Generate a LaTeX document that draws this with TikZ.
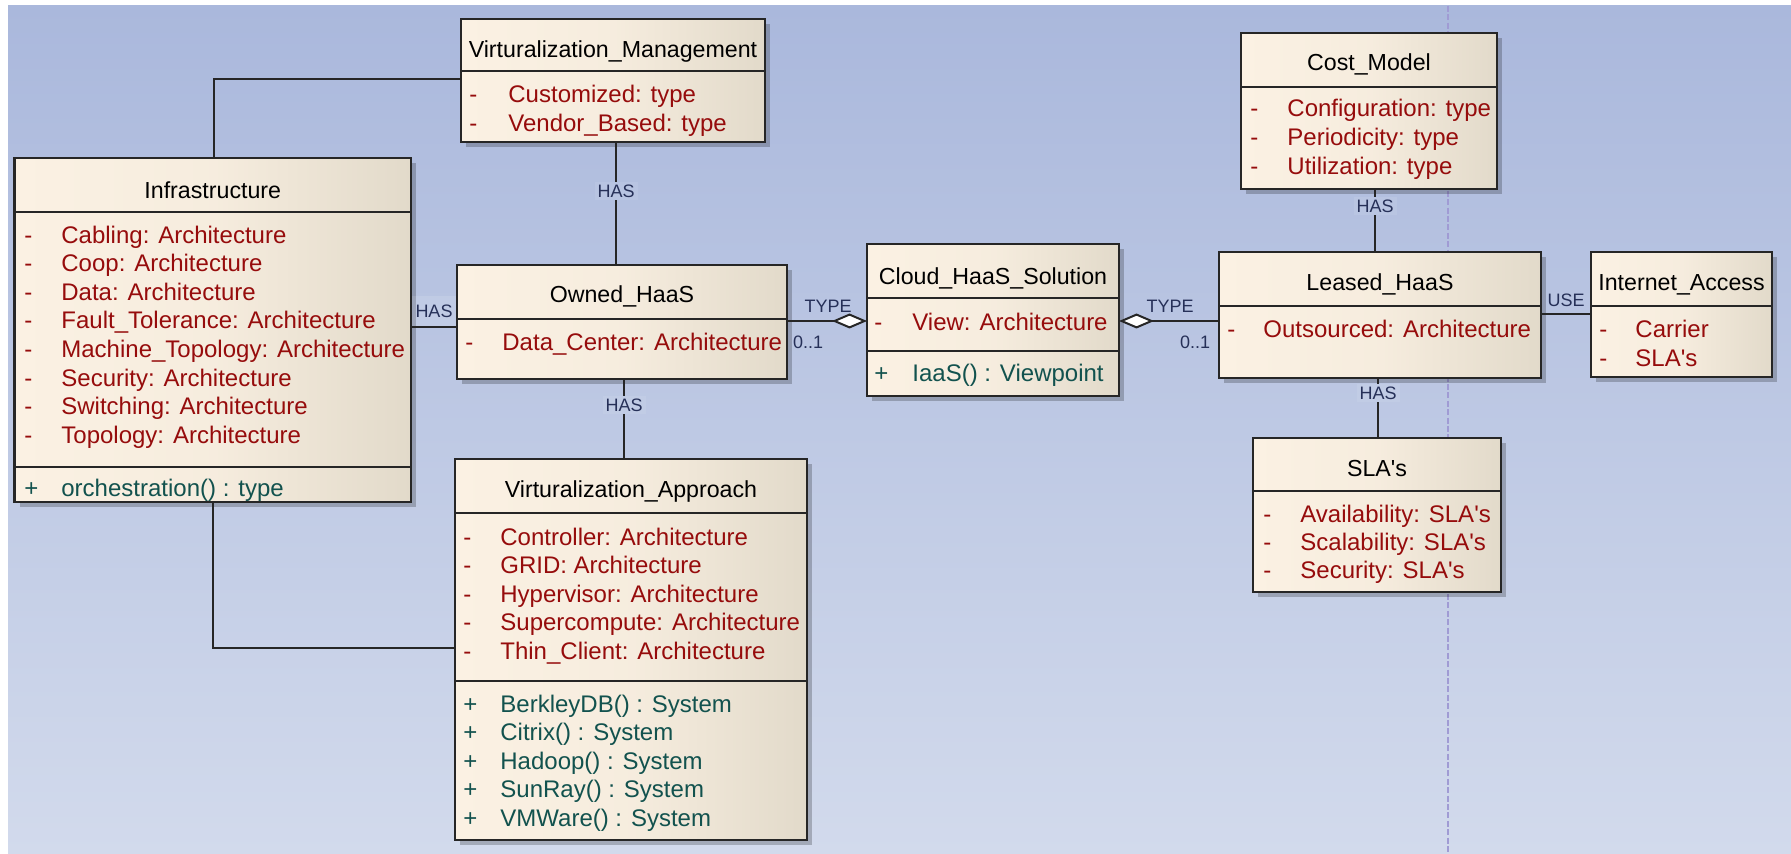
\documentclass[tikz,border=0pt]{standalone}
\usepackage{fontspec}
\setmainfont{Liberation Sans}
\usetikzlibrary{fit,shadows,arrows.meta}

\definecolor{bgtop}{RGB}{170,184,220}
\definecolor{bgbot}{RGB}{210,218,236}
\definecolor{boxl}{RGB}{251,241,227}
\definecolor{boxr}{RGB}{226,218,202}
\definecolor{attrc}{RGB}{150,12,12}
\definecolor{operc}{RGB}{18,82,78}
\definecolor{lblc}{RGB}{38,48,88}
\definecolor{pagec}{RGB}{160,155,212}

\tikzset{
  classbox/.style={draw=black!85, line width=1.2pt, inner sep=0pt, outer sep=0pt,
    left color=boxl, right color=boxr, middle color=boxl!80!boxr,
    drop shadow={shadow xshift=2.5pt, shadow yshift=-2.5pt, fill=black, opacity=0.22}},
  sepline/.style={draw=black!85, line width=1.2pt},
  membertxt/.style={anchor=west, inner sep=0pt, font=\fontsize{12}{13}\selectfont,
    text height=8.5pt, text depth=2.4pt},
  attrtxt/.style={membertxt, text=attrc},
  optxt/.style={membertxt, text=operc},
  titletxt/.style={anchor=center, inner sep=0pt, font=\fontsize{11.6}{13}\selectfont,
    text height=8.3pt, text depth=2.3pt, text=black},
  conn/.style={draw=black!85, line width=1pt},
  aggr/.style={conn, -{Diamond[fill=white, length=17.5pt, width=7.5pt]}},
  lab/.style={font=\fontsize{9}{10}\selectfont, text=lblc, inner sep=1.5pt},
}

% one attribute / operation row: name, sign x, text x, y, text
\newcommand\mattr[5]{\node[attrtxt] (#1-s) at (#2,#4) {-};\node[attrtxt] (#1) at (#3,#4) {#5};}
\newcommand\mop[5]{\node[optxt] (#1-s) at (#2,#4) {+};\node[optxt] (#1) at (#3,#4) {#5};}
\newcommand\mtitle[3]{\node[titletxt] (#1-title) at (#1.center |- 0,#2) {#3};}
\newcommand\msep[2]{\draw[sepline] (#1.west |- 0,#2) -- (#1.east |- 0,#2);}

\begin{document}
\begin{tikzpicture}[x=0.5pt, y=-0.5pt]
\useasboundingbox (0,0) rectangle (1791,854);

% canvas
\fill[top color=bgtop, bottom color=bgbot] (8,6) rectangle (1791,854);
\draw[pagec, line width=0.9pt, dash pattern=on 3pt off 1.2pt] (1448,6) -- (1448,854);

% ---------- classes ----------
\node[classbox, fit={(14.5,158) (411,502)}] (infra) {};
\msep{infra}{212}\msep{infra}{467}
\mtitle{infra}{193}{Infrastructure}
\mattr{infra-a1}{24}{61}{237}{Cabling: Architecture}
\mattr{infra-a2}{24}{61}{265.6}{Coop: Architecture}
\mattr{infra-a3}{24}{61}{294.2}{Data: Architecture}
\mattr{infra-a4}{24}{61}{322.8}{Fault\_Tolerance: Architecture}
\mattr{infra-a5}{24}{61}{351.4}{Machine\_Topology: Architecture}
\mattr{infra-a6}{24}{61}{380}{Security: Architecture}
\mattr{infra-a7}{24}{61}{408.6}{Switching: Architecture}
\mattr{infra-a8}{24}{61}{437.2}{Topology: Architecture}
\mop{infra-o1}{24}{61}{490}{orchestration() : type}

\node[classbox, fit={(461,19) (765,142)}] (vm) {};
\msep{vm}{71}
\mtitle{vm}{52}{Virturalization\_Management}
\mattr{vm-a1}{469}{508}{96}{Customized: type}
\mattr{vm-a2}{469}{508}{125}{Vendor\_Based: type}

\node[classbox, fit={(457,265) (787,379)}] (owned) {};
\msep{owned}{319}
\mtitle{owned}{297}{Owned\_HaaS}
\mattr{owned-a1}{465}{502}{344}{Data\_Center: Architecture}

\node[classbox, fit={(455,459) (807,840)}] (va) {};
\msep{va}{513}\msep{va}{681}
\mtitle{va}{492}{Virturalization\_Approach}
\mattr{va-a1}{463}{500}{539}{Controller: Architecture}
\mattr{va-a2}{463}{500}{567.5}{GRID: Architecture}
\mattr{va-a3}{463}{500}{596}{Hypervisor: Architecture}
\mattr{va-a4}{463}{500}{624.5}{Supercompute: Architecture}
\mattr{va-a5}{463}{500}{653}{Thin\_Client: Architecture}
\mop{va-o1}{463}{500}{706}{BerkleyDB() : System}
\mop{va-o2}{463}{500}{734.5}{Citrix() : System}
\mop{va-o3}{463}{500}{763}{Hadoop() : System}
\mop{va-o4}{463}{500}{791.5}{SunRay() : System}
\mop{va-o5}{463}{500}{820}{VMWare() : System}

\node[classbox, fit={(867,244) (1119,396)}] (cloud) {};
\msep{cloud}{298}\msep{cloud}{351}
\mtitle{cloud}{279}{Cloud\_HaaS\_Solution}
\mattr{cloud-a1}{874}{912}{324}{View: Architecture}
\mop{cloud-o1}{874}{912}{375}{IaaS() : Viewpoint}

\node[classbox, fit={(1219,252) (1541,378)}] (leased) {};
\msep{leased}{306}
\mtitle{leased}{285}{Leased\_HaaS}
\mattr{leased-a1}{1227}{1263}{331}{Outsourced: Architecture}

\node[classbox, fit={(1241,33) (1497,189)}] (cost) {};
\msep{cost}{87}
\mtitle{cost}{65}{Cost\_Model}
\mattr{cost-a1}{1250}{1287}{110.5}{Configuration: type}
\mattr{cost-a2}{1250}{1287}{139.5}{Periodicity: type}
\mattr{cost-a3}{1250}{1287}{168.5}{Utilization: type}

\node[classbox, fit={(1591,252) (1772,377)}] (inet) {};
\msep{inet}{306}
\mtitle{inet}{285}{Internet\_Access}
\mattr{inet-a1}{1599}{1635}{331}{Carrier}
\mattr{inet-a2}{1599}{1635}{360}{SLA\textquotesingle s}

\node[classbox, fit={(1253,438) (1501,592)}] (sla) {};
\msep{sla}{491}
\mtitle{sla}{471}{SLA\textquotesingle s}
\mattr{sla-a1}{1263}{1300}{516}{Availability: SLA\textquotesingle s}
\mattr{sla-a2}{1263}{1300}{544}{Scalability: SLA\textquotesingle s}
\mattr{sla-a3}{1263}{1300}{572}{Security: SLA\textquotesingle s}

% ---------- connectors ----------
\draw[conn] (infra.north -| 214,0) |- (vm.west |- 0,79);
\draw[conn] (infra.south -| 213,0) |- (va.west |- 0,648);
\draw[conn] (infra.east |- 0,327) -- (owned.west |- 0,327);
\draw[conn] (vm.south -| 616,0) -- (owned.north -| 616,0);
\draw[conn] (owned.south -| 624,0) -- (va.north -| 624,0);
\draw[aggr] (owned.east |- 0,321) -- (cloud.west |- 0,321);
\draw[aggr] (leased.west |- 0,321) -- (cloud.east |- 0,321);
\draw[conn] (cost.south -| 1375,0) -- (leased.north -| 1375,0);
\draw[conn] (leased.south -| 1378,0) -- (sla.north -| 1378,0);
\draw[conn] (leased.east |- 0,314) -- (inet.west |- 0,314);

% ---------- connector labels ----------
\node[lab, fill=white, fill opacity=0.12, text opacity=1, minimum width=22pt, minimum height=15pt] (l-infra-owned) at (434,311) {HAS};
\node[lab, fill=bgbot!22!bgtop!93!white] (l-vm-owned) at (616,191) {HAS};
\node[lab, fill=bgbot!47!bgtop!93!white] (l-owned-va) at (624,405) {HAS};
\node[lab] (l-type1) at (828,306) {TYPE};
\node[lab] (l-mult1) at (808,342) {0..1};
\node[lab] (l-type2) at (1170,306) {TYPE};
\node[lab] (l-mult2) at (1195,342) {0..1};
\node[lab, fill=bgbot!24!bgtop!93!white] (l-cost-leased) at (1375,206) {HAS};
\node[lab, fill=bgbot!46!bgtop!93!white] (l-leased-sla) at (1378,393) {HAS};
\node[lab] (l-use) at (1566,300) {USE};
\end{tikzpicture}
\end{document}
